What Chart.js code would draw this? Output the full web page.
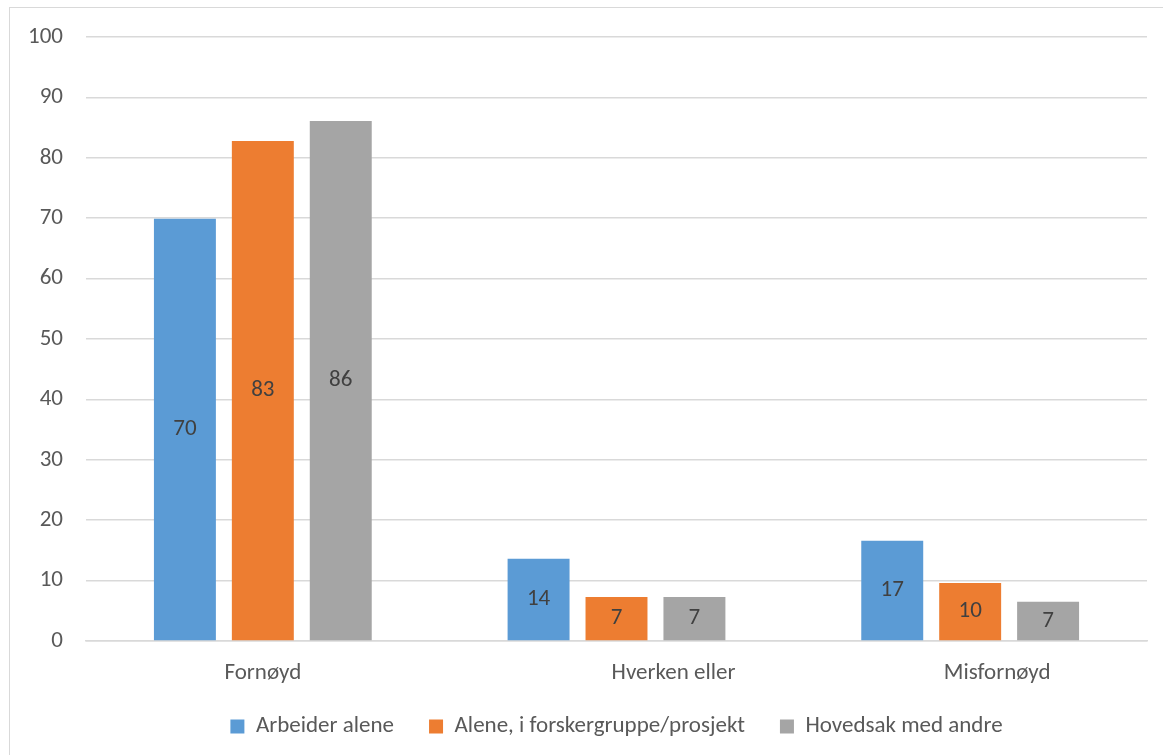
<!DOCTYPE html>
<html>
<head>
<meta charset="utf-8">
<script src="https://cdn.jsdelivr.net/npm/chart.js@4.4.1/dist/chart.umd.min.js"></script>
<style>
  html, body { margin: 0; padding: 0; background: #fff; overflow: hidden; }
  #ramme {
    position: absolute; left: 9px; top: 7px;
    width: 1200px; height: 800px;
    border: 1.5px solid #d9d9d9; box-sizing: border-box;
  }
  #graf { position: absolute; left: 0; top: 0; }
</style>
</head>
<body>
<div id="ramme"></div>
<canvas id="graf" width="1163" height="755"></canvas>
<script>
/* =========================
   DATA
========================= */
const kategorier = ["Fornøyd", "Hverken eller", "Misfornøyd"];
const serier = ["Arbeider alene", "Alene, i forskergruppe/prosjekt", "Hovedsak med andre"];
const arbeiderAlene = [69.9, 13.6, 16.6];
const aleneGruppe = [82.8, 7.3, 9.6];
const medAndre = [86.1, 7.3, 6.5];
const yTicks = [0, 10, 20, 30, 40, 50, 60, 70, 80, 90, 100];

const farger = ["#5b9bd5", "#ed7d31", "#a5a5a5"];
const FONT = "Carlito, Lato, 'Open Sans', sans-serif";
const STR = 23;
const TEKST = "#595959";

// kategorietikettene står litt forskjøvet i originalen
const etikettForskyvning = [0, 57, 27];

/* =========================
   PLUGINS
========================= */
const verdiEtiketter = {
  id: "verdiEtiketter",
  afterDatasetsDraw(chart) {
    const ctx = chart.ctx;
    ctx.save();
    ctx.font = STR + "px " + FONT;
    ctx.fillStyle = "#404040";
    ctx.textAlign = "center";
    ctx.textBaseline = "middle";
    chart.data.datasets.forEach((ds, i) => {
      chart.getDatasetMeta(i).data.forEach((bar, j) => {
        const y = (bar.y + bar.base) / 2;
        ctx.fillText(Math.round(ds.data[j]), bar.x, y);
      });
    });
    ctx.restore();
  }
};

const kategoriEtiketter = {
  id: "kategoriEtiketter",
  afterDraw(chart) {
    const ctx = chart.ctx;
    const x = chart.scales.x;
    ctx.save();
    ctx.font = STR + "px " + FONT;
    ctx.fillStyle = TEKST;
    ctx.textAlign = "center";
    ctx.textBaseline = "middle";
    kategorier.forEach((k, i) => {
      ctx.fillText(k, x.getPixelForValue(i) + etikettForskyvning[i], x.top + 32);
    });
    ctx.restore();
  }
};

/* =========================
   GRAF
========================= */
new Chart(document.getElementById("graf"), {
  type: "bar",
  data: {
    labels: kategorier,
    datasets: [
      { label: serier[0], data: arbeiderAlene, backgroundColor: farger[0] },
      { label: serier[1], data: aleneGruppe, backgroundColor: farger[1] },
      { label: serier[2], data: medAndre, backgroundColor: farger[2] }
    ]
  },
  options: {
    responsive: false,
    animation: false,
    categoryPercentage: 0.661,
    barPercentage: 0.795,
    layout: { padding: { left: 0, right: 16, top: 37, bottom: 7 } },
    plugins: {
      tooltip: { enabled: false },
      legend: {
        position: "bottom",
        fullSize: false,
        labels: {
          boxWidth: 14,
          boxHeight: 14,
          padding: 35,
          color: TEKST,
          font: { family: FONT, size: STR }
        }
      }
    },
    scales: {
      x: {
        grid: { display: false },
        border: { color: "#d9d9d9", width: 1.5 },
        ticks: { display: false },
        afterFit: s => { s.height = 39; }
      },
      y: {
        min: 0,
        max: 100,
        afterBuildTicks: s => { s.ticks = yTicks.map(v => ({ value: v })); },
        ticks: {
          color: TEKST,
          padding: 23,
          font: { family: FONT, size: STR }
        },
        grid: { color: "#d9d9d9", lineWidth: 1.5, drawTicks: false },
        border: { display: false },
        afterFit: s => { s.width = 86; }
      }
    }
  },
  plugins: [verdiEtiketter, kategoriEtiketter]
});
</script>
</body>
</html>
